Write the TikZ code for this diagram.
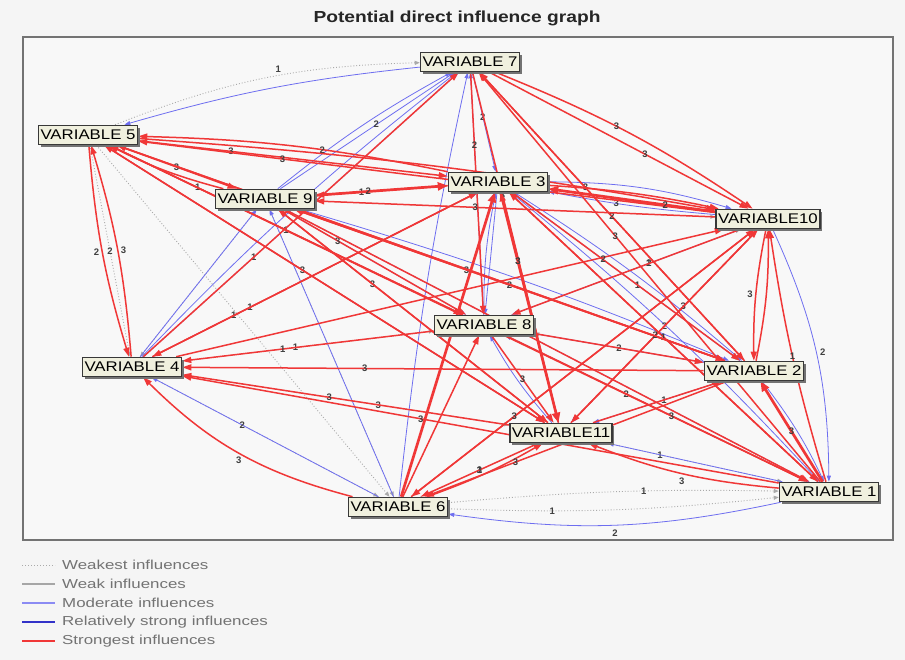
\documentclass[tikz,border=0pt]{standalone}
\usepackage{fontspec}
\setmainfont{Liberation Sans}
\newfontfamily\nodefont[FakeStretch=1.2]{Liberation Sans}
\newfontfamily\legfont[FakeStretch=1.3]{Liberation Sans}
\usetikzlibrary{arrows.meta,shadows}
\definecolor{bgc}{RGB}{245,245,245}
\definecolor{innerc}{RGB}{248,248,248}
\definecolor{redc}{RGB}{240,55,55}
\definecolor{bluec}{RGB}{110,110,240}
\definecolor{dblue}{RGB}{50,50,200}
\definecolor{grayc}{RGB}{170,170,170}
\definecolor{boxc}{RGB}{240,240,222}
\pgfdeclarelayer{bg}
\pgfdeclarelayer{edges}
\pgfsetlayers{bg,edges,main}
\begin{document}
\begin{tikzpicture}[x=1pt,y=-1pt,
  vn/.style={draw=black!78, fill=boxc, line width=1.6pt, inner xsep=2pt, inner ysep=0pt,
    minimum height=19pt, font=\nodefont\fontsize{14}{14}\selectfont,
    drop shadow={shadow xshift=2.2pt,shadow yshift=-2.2pt,fill=black!55,opacity=1}},
  rr/.style={draw=redc, line width=1.5pt, -{Triangle[length=9pt,width=6pt]}},
  rw/.style={rr, line width=2.7pt, -{Triangle[length=10pt,width=8pt]}},
  bb/.style={draw=bluec, line width=0.8pt, -{Triangle[length=6pt,width=4pt]}},
  gg/.style={draw=grayc, dotted, line width=0.9pt, -{Triangle[length=5pt,width=4pt]}},
  lb/.style={font=\bfseries\fontsize{9.5}{9.5}\selectfont, text=black!75, inner sep=0.5pt}
]
\useasboundingbox (0,0) rectangle (905,660);
\begin{pgfonlayer}{bg}
\fill[bgc] (0,0) rectangle (905,660);
\fill[innerc] (23,37) rectangle (893,540);
\draw[black!55, line width=1.5pt] (23,37) rectangle (893,540);
\end{pgfonlayer}
\node[font=\nodefont\bfseries\fontsize{16}{16}\selectfont, text=black!85] (title) at (457,18) {Potential direct influence graph};

% variables
\node[vn] (v7) at (470,62) {VARIABLE 7};
\node[vn] (v5) at (88,135) {VARIABLE 5};
\node[vn] (v9) at (265,199) {VARIABLE 9};
\node[vn] (v3) at (498,182) {VARIABLE 3};
\node[vn] (v10) at (768,219) {VARIABLE10};
\node[vn] (v8) at (484,325) {VARIABLE 8};
\node[vn] (v4) at (132,367) {VARIABLE 4};
\node[vn] (v2) at (754,371) {VARIABLE 2};
\node[vn] (v11) at (561,433) {VARIABLE11};
\node[vn] (v6) at (398,507) {VARIABLE 6};
\node[vn] (v1) at (829,492) {VARIABLE 1};

\begin{pgfonlayer}{edges}
% weakest (dotted)
\draw[gg] (v5) to[bend left=10] node[lb,pos=.55,above=2pt]{1} (v7);
\draw[gg] (v11) -- node[lb,pos=.3]{1} (v1);
\draw[gg] (v6) to[bend left=3] node[lb,pos=.6]{1} (v1);
\draw[gg] (v6) to[bend right=4] node[lb,pos=.3]{1} (v1);
\draw[gg] (v5) -- (v6);
\draw[gg] (v4) -- node[lb,pos=.6]{3} (v11);
\draw[gg] (v9) -- (v6);
\draw[gg] (v3) -- (v10);
\draw[gg] (v8) -- node[lb,pos=.6]{1} (v10);
\draw[gg] (v2) -- (v8);
\draw[gg] (v4) -- (v6);
\draw[gg] (v9) -- node[lb,pos=.35]{1} (v3);
\draw[gg] (v3) -- node[lb,pos=.55]{1} (v2);
\draw[gg] (v8) -- (v1);
\draw[gg] (v6) -- node[lb,pos=.5]{1} (v11);
\draw[gg] (v4) -- node[lb,pos=.45]{1} (v8);
\draw[gg] (v9) -- (v4);
\draw[gg] (v11) -- (v2);
\draw[gg] (v5) -- node[lb,pos=.5]{2} (v4);
\draw[gg] (v9) -- (v10);

% moderate (blue)
\draw[bb] (v7) to[bend right=5] (v5);
\draw[bb] (v9) -- node[lb,pos=.55]{2} (v7);
\draw[bb] (v9) to[bend left=5] (v7);
\draw[bb] (v4) -- node[lb,pos=.35]{1} (v7);
\draw[bb] (v4) to[bend left=4] (v7);
\draw[bb] (v4) -- node[lb,pos=.3]{1} (v3);
\draw[bb] (v6) to[bend left=3] (v7);
\draw[bb] (v6) -- (v3);
\draw[bb] (v6) -- (v9);
\draw[bb] (v8) -- (v7);
\draw[bb] (v7) -- node[lb,pos=.45]{2} (v3);
\draw[bb] (v8) to[bend left=6] (v3);
\draw[bb] (v3) to[bend left=8] (v10);
\draw[bb] (v10) to[bend left=3] node[lb,pos=.6]{3} (v3);
\draw[bb] (v10) to[bend left=12] node[lb,pos=.5,right=3pt]{2} (v1);
\draw[bb] (v1) to[bend left=10] node[lb,pos=.5,below=4pt]{2} (v6);
\draw[bb] (v6) -- node[lb,pos=.6]{2} (v4);
\draw[bb] (v8) -- node[lb,pos=.5]{2} (v2);
\draw[bb] (v2) -- node[lb,pos=.45]{1} (v11);
\draw[bb] (v1) -- node[lb,pos=.6]{2} (v8);
\draw[bb] (v1) -- (v9);
\draw[bb] (v10) -- node[lb,pos=.4]{2} (v8);
\draw[bb] (v5) -- node[lb,pos=.5]{1} (v8);
\draw[bb] (v5) -- (v11);
\draw[bb] (v2) -- (v3);
\draw[bb] (v11) -- (v3);
\draw[bb] (v1) -- (v11);
\draw[bb] (v4) -- (v9);
\draw[bb] (v9) -- (v8);
\draw[bb] (v9) to[bend left=3] (v2);
\draw[bb] (v3) to[bend left=4] (v2);
\draw[bb] (v2) to[bend left=6] (v1);
\draw[bb] (v11) to[bend left=6] (v8);
\draw[bb] (v1) to[bend right=4] (v3);
\draw[bb] (v10) -- node[lb,pos=.5]{2} (v11);
\draw[bb] (v3) -- (v8);

% strongest (red)
\draw[rr] (v7) to[bend left=6] node[lb,pos=.45]{3} (v10);
\draw[rr] (v7) -- node[lb,pos=.6]{3} (v10);
\draw[rr] (v7) -- node[lb,pos=.4]{3} (v2);
\draw[rr] (v1) -- node[lb,pos=.6]{3} (v7);
\draw[rr] (v7) -- node[lb,pos=.35]{3} (v11);
\draw[rr] (v7) -- node[lb,pos=.3]{2} (v8);
\draw[rr] (v4) -- (v7);
\draw[rr] (v2) -- node[lb,pos=.5]{2} (v7);
\draw[rr] (v3) to[bend right=5] node[lb,pos=.4]{2} (v5);
\draw[rr] (v5) -- node[lb,pos=.3]{3} (v3);
\draw[rr] (v10) -- node[lb,pos=.75]{3} (v5);
\draw[rr] (v5) to[bend left=3] (v10);
\draw[rr] (v5) -- node[lb,pos=.5]{3} (v9);
\draw[rr] (v9) to[bend left=6] (v5);
\draw[rr] (v5) -- node[lb,pos=.25]{1} (v8);
\draw[rr] (v5) -- node[lb,pos=.45]{3} (v11);
\draw[rr] (v5) -- (v2);
\draw[rr] (v5) -- (v1);
\draw[rr] (v11) -- (v5);
\draw[rr] (v10) -- node[lb,pos=.6]{3} (v9);
\draw[rw] (v9) -- (v3);
\draw[rr] (v3) -- node[lb,pos=.6]{2} (v9);
\draw[rr] (v9) -- node[lb,pos=.3]{3} (v8);
\draw[rr] (v9) -- node[lb,pos=.35]{3} (v11);
\draw[rr] (v9) -- node[lb,pos=.4]{3} (v2);
\draw[rr] (v9) -- (v1);
\draw[rr] (v5) to[bend right=6] node[lb,pos=.5,left=2pt]{2} (v4);
\draw[rr] (v4) to[bend right=6] node[lb,pos=.5,right=2pt]{3} (v5);
\draw[rr] (v8) -- node[lb,pos=.6]{1} (v4);
\draw[rr] (v11) -- node[lb,pos=.55]{3} (v4);
\draw[rr] (v2) -- node[lb,pos=.65]{3} (v4);
\draw[rr] (v1) -- node[lb,pos=.6]{3} (v4);
\draw[rr] (v3) -- node[lb,pos=.75]{1} (v4);
\draw[rr] (v4) -- (v10);
\draw[rr] (v6) to[bend left=15] node[lb,pos=.5,below=3pt]{3} (v4);
\draw[rr] (v11) -- node[lb,pos=.5]{3} (v6);
\draw[rr] (v6) to[bend right=5] (v11);
\draw[rr] (v2) -- node[lb,pos=.7]{3} (v6);
\draw[rr] (v10) -- (v6);
\draw[rw] (v6) -- (v3);
\draw[rr] (v6) -- (v8);
\draw[rw] (v3) -- node[lb,pos=.3]{3} (v11);
\draw[rr] (v3) -- node[lb,pos=.4]{2} (v2);
\draw[rr] (v3) -- (v1);
\draw[rr] (v8) -- node[lb,pos=.5]{3} (v11);
\draw[rr] (v8) -- (v2);
\draw[rr] (v8) -- node[lb,pos=.55]{3} (v1);
\draw[rr] (v10) -- node[lb,pos=.4]{3} (v11);
\draw[rr] (v10) -- (v8);
\draw[rr] (v11) -- (v2);
\draw[rr] (v1) to[bend left=4] node[lb,pos=.5]{1} (v10);
\draw[rr] (v10) to[bend right=6] node[lb,pos=.5,left=2pt]{3} (v2);
\draw[rr] (v2) to[bend right=6] (v10);
\draw[rw] (v1) -- node[lb,pos=.5]{3} (v2);
\draw[rr] (v1) to[bend left=8] node[lb,pos=.5,below=3pt]{3} (v11);
\draw[rr] (v1) -- node[lb,pos=.5]{1} (v3);
\draw[rr] (v2) -- node[lb,pos=.5]{2} (v9);
\draw[rr] (v11) -- node[lb,pos=.7]{3} (v3);
\draw[rr] (v11) -- node[lb,pos=.45]{2} (v10);
\draw[rr] (v4) -- (v3);
\draw[rw] (v10) -- node[lb,pos=.3]{2} (v3);
\draw[rr] (v3) to[bend left=4] (v10);
\draw[rr] (v11) -- (v9);
\draw[rr] (v8) -- (v5);
\draw[rr] (v6) -- node[lb,pos=.3]{3} (v10);
\draw[rr] (v2) -- (v5);
\end{pgfonlayer}

% legend
\draw[grayc, dotted, line width=1pt] (22,565) -- (55,565);
\draw[black!35, line width=2pt] (22,584) -- (55,584);
\draw[bluec!80, line width=1.5pt] (22,603) -- (55,603);
\draw[dblue, line width=2.5pt] (22,622) -- (55,622);
\draw[redc, line width=1.5pt] (22,641) -- (55,641);
\begin{scope}[every node/.style={anchor=west, inner sep=0pt, text=black!55, font=\legfont\fontsize{13}{13}\selectfont}]
\node (l1) at (62,565) {Weakest influences};
\node (l2) at (62,584) {Weak influences};
\node (l3) at (62,603) {Moderate influences};
\node (l4) at (62,622) {Relatively strong influences};
\node (l5) at (62,641) {Strongest influences};
\end{scope}
\end{tikzpicture}
\end{document}
